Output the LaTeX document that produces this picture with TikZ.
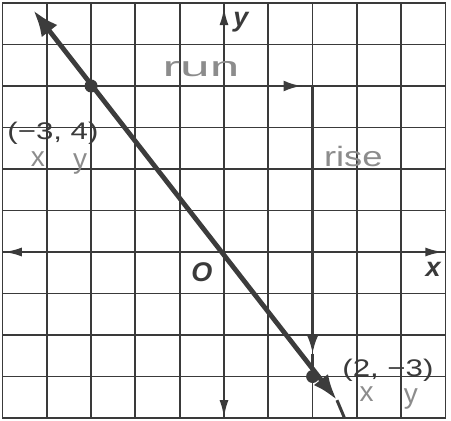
\documentclass[tikz,border=0pt]{standalone}
\usepackage{fontspec}
\setmainfont{Liberation Sans}
\usetikzlibrary{arrows.meta}
\definecolor{gridc}{HTML}{3A3A3A}
\definecolor{linec}{HTML}{3C3C3C}
\definecolor{handc}{HTML}{8C8C8C}
\tikzset{
  gridline/.style={gridc, line width=1.8pt},
  axis/.style={gridc, line width=2.6pt},
  mainline/.style={linec, line width=4.8pt},
  guide/.style={linec, line width=2.8pt},
  dot/.style={circle, fill=linec, inner sep=0pt, minimum size=13pt},
  axlabel/.style={font=\fontsize{27}{27}\selectfont\bfseries\itshape, text=gridc, inner sep=0pt},
  ptlabel/.style={font=\fontsize{24}{24}\selectfont, text=gridc, inner sep=0pt},
  hand/.style={font=\fontsize{28}{28}\selectfont, text=handc, inner sep=0pt},
}
\begin{document}
\begin{tikzpicture}[x=44.3pt, y=41.5pt]
\useasboundingbox (-5.056,-4.048) rectangle (5.124,6.072);
% grid
\foreach \i in {-5,...,5} \draw[gridline] (\i,-4) -- (\i,6);
\foreach \j in {-4,...,6} \draw[gridline] (-5,\j) -- (5,\j);
% axes
\coordinate (xl) at (-4.97,0);
\coordinate (xr) at (4.95,0);
\coordinate (yb) at (0,-4.0);
\coordinate (yt) at (0,5.9);
\draw[axis, {Latex[length=18pt,width=9pt]}-{Latex[length=18pt,width=9pt]}] (xl) -- (xr);
\draw[axis, {Latex[length=18pt,width=9pt]}-{Latex[length=18pt,width=9pt]}] (yb) -- (yt);
\node[axlabel] (ylab) at (0.38,5.54) {y};
\node[axlabel] (xlab) at (4.72,-0.43) {x};
\node[axlabel] (olab) at (-0.5,-0.48) {O};
% points
\node[dot] (p1) at (-3,4) {};
\node[dot] (p2) at (2,-3) {};
\coordinate (q) at (2,4);
% main line
\coordinate (tl) at (-4.3,5.82);
\coordinate (brtip) at (2.55,-3.57);
\coordinate (brend) at (2.72,-4.0);
\draw[mainline, {Latex[length=26pt,width=20pt]}-{Latex[length=26pt,width=18pt]}] (tl) -- (brtip);
\draw[linec, line width=3pt] (brtip) -- (brend);
% run and rise
\coordinate (runtip) at (1.75,4);
\coordinate (risetip) at (2,-2.45);
\draw[guide, -{Latex[length=18pt,width=11pt]}] (p1) -- (runtip);
\draw[guide] (runtip) -- (q);
\draw[guide, -{Latex[length=18pt,width=11pt]}] (q) -- (risetip);
\draw[guide] (risetip) -- (p2);
% labels
\node[ptlabel] (l1) at (-3.86,2.87) {\scalebox{1.3}[1]{(−3, 4)}};
\node[ptlabel] (l2) at (3.70,-2.84) {\scalebox{1.3}[1]{(2, −3)}};
\node[hand] (h1x) at (-4.2,2.24) {x};
\node[hand] (h1y) at (-3.25,2.12) {y};
\node[hand] (h2x) at (3.22,-3.42) {x};
\node[hand] (h2y) at (4.22,-3.55) {y};
\node[hand] (run) at (-0.52,4.40) {\scalebox{1.9}[1]{run}};
\node[hand] (rise) at (2.92,2.30) {\scalebox{1.3}[1]{rise}};
\end{tikzpicture}
\end{document}
